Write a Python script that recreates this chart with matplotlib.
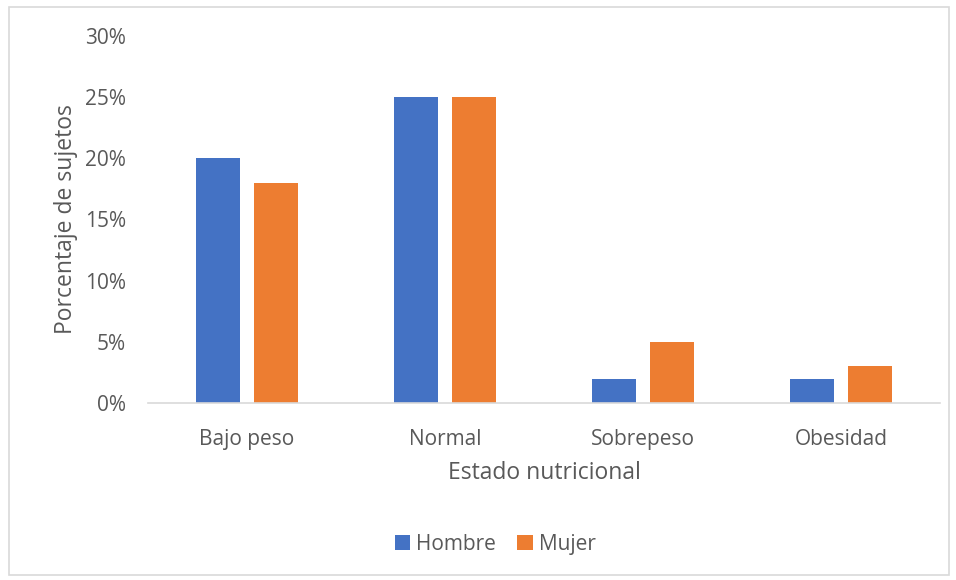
import numpy as np
import matplotlib.pyplot as plt
from matplotlib.patches import Rectangle
from matplotlib.ticker import PercentFormatter

plt.rcParams['font.family'] = ['Open Sans', 'DejaVu Sans']

# ================= DATA =================
categorias = ['Bajo peso', 'Normal', 'Sobrepeso', 'Obesidad']
hombre = [20, 25, 2, 2]
mujer = [18, 25, 5, 3]
series = ['Hombre', 'Mujer']

azul = '#4472C4'
naranja = '#ED7D31'
gris = '#595959'

# ================= PLOT =================
fig = plt.figure(figsize=(9.56, 5.8), dpi=100)
ax = fig.add_axes([0.1548, 0.3052, 0.8285, 0.6328])

x = np.arange(len(categorias))
w = 0.222
off = 0.145

ax.bar(x - off, hombre, w, color=azul, label=series[0])
ax.bar(x + off, mujer, w, color=naranja, label=series[1])

ax.set_xlim(-0.5, len(categorias) - 0.5)
ax.set_ylim(0, 30)
ax.set_yticks(np.arange(0, 31, 5))
ax.yaxis.set_major_formatter(PercentFormatter(decimals=0))
ax.set_xticks(x)
ax.set_xticklabels(categorias)

for s in ['top', 'right', 'left']:
    ax.spines[s].set_visible(False)
ax.spines['bottom'].set_color('#D9D9D9')
ax.spines['bottom'].set_linewidth(1.2)
ax.tick_params(length=0, labelsize=15, labelcolor=gris)
ax.tick_params(axis='x', pad=19)
ax.tick_params(axis='y', pad=16)

ax.set_xlabel('Estado nutricional', fontsize=16.5, color=gris, labelpad=8)
ax.set_ylabel('Porcentaje de sujetos', fontsize=16.5, color=gris, labelpad=5)

fig.legend(loc='center', bbox_to_anchor=(0.518, 0.062), ncol=2, frameon=False,
           fontsize=15, labelcolor=gris, handlelength=0.75, handleheight=0.75,
           handletextpad=0.3, columnspacing=1.0)

# chart border
fig.patches.append(Rectangle((9 / 956, 5 / 580), 940 / 956, 568 / 580,
                             transform=fig.transFigure, fill=False,
                             edgecolor='#D9D9D9', lw=1.2))

plt.savefig('out.png', dpi=100)
